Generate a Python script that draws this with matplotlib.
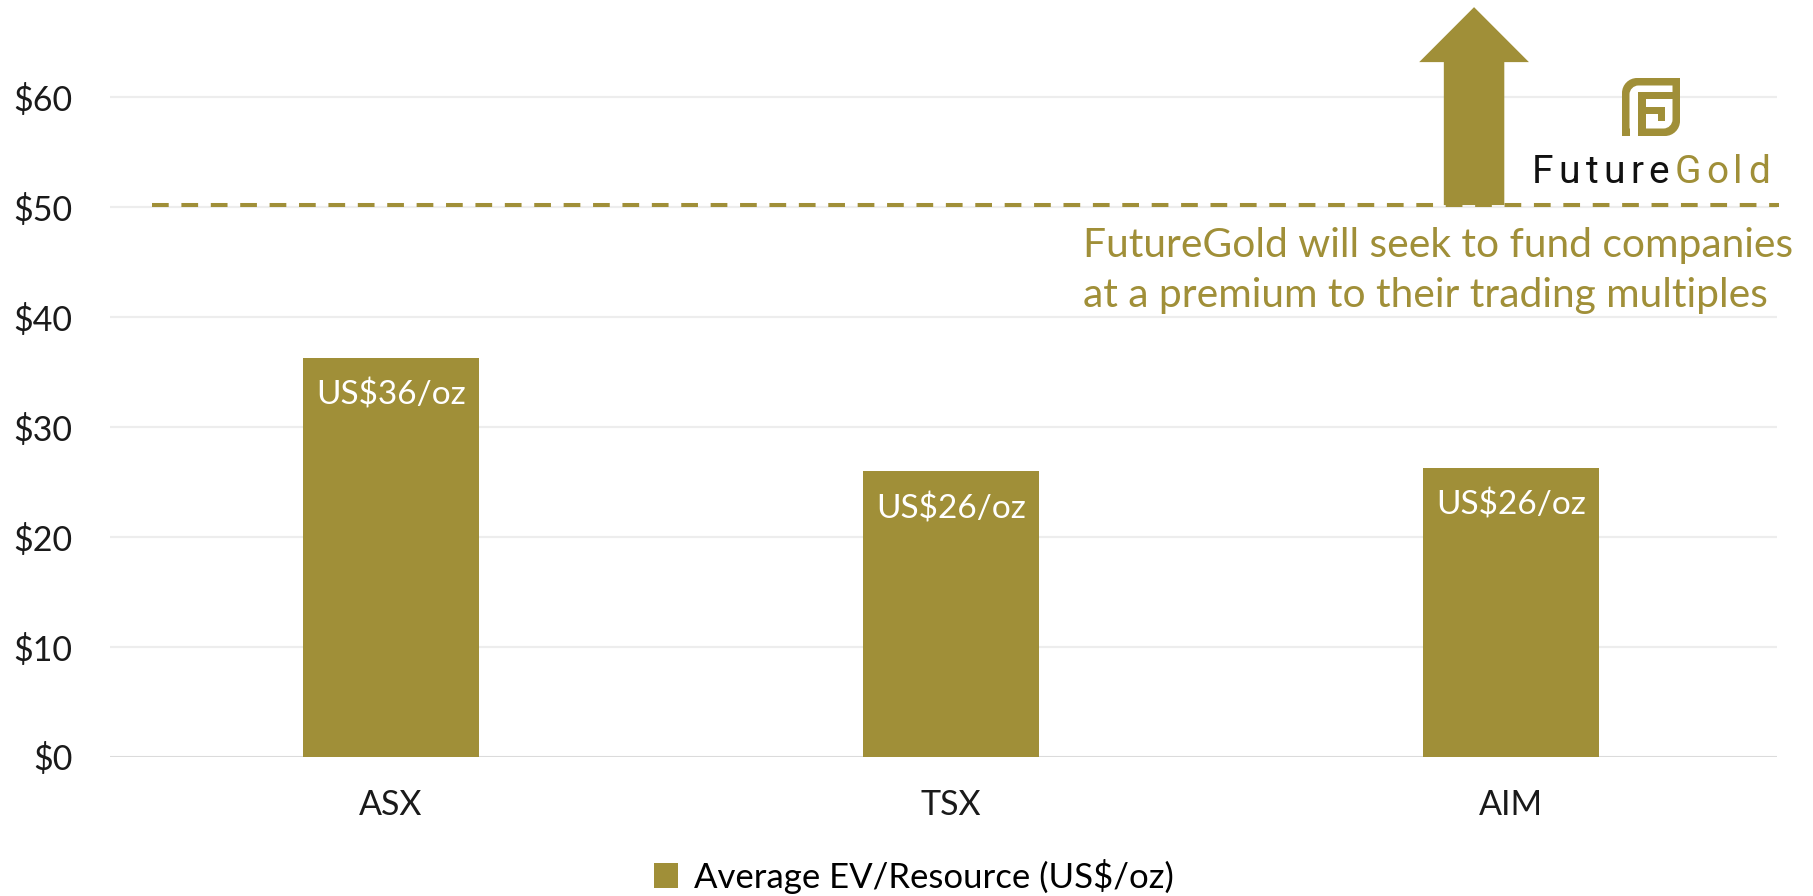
import matplotlib
matplotlib.use("Agg")
import matplotlib.pyplot as plt
from matplotlib.patches import Polygon, Rectangle, PathPatch
from matplotlib.path import Path
from matplotlib.ticker import FuncFormatter

# ---- data ----
categories = ["ASX", "TSX", "AIM"]
values = [36.3, 26.0, 26.3]
bar_labels = ["US$36/oz", "US$26/oz", "US$26/oz"]
series_name = "Average EV/Resource (US$/oz)"
target_level = 50.2
yticks = [0, 10, 20, 30, 40, 50, 60]
note_lines = ["FutureGold will seek to fund companies",
              "at a premium to their trading multiples"]

GOLD = "#A08F38"
FONT = "Lato"
plt.rcParams["font.family"] = [FONT, "DejaVu Sans"]

W, H = 1813, 896
fig = plt.figure(figsize=(W / 100, H / 100), dpi=100)
ax = fig.add_axes([110 / W, 1 - 757 / H, (1777 - 110) / W, (757 - 94) / H])
ax.set_xlim(-0.502, 2.475)
ax.set_ylim(0, 60.3)

bars = ax.bar(range(len(categories)), values, width=0.314, color=GOLD,
              label=series_name, zorder=3)

for s in ax.spines.values():
    s.set_visible(False)
ax.set_yticks(yticks)
ax.yaxis.set_major_formatter(FuncFormatter(lambda v, p: f"${v:.0f}"))
ax.set_xticks(range(len(categories)))
ax.set_xticklabels(categories)
ax.tick_params(axis="both", length=0, labelsize=24.5, labelcolor="#1a1a1a")
ax.tick_params(axis="y", pad=27)
ax.tick_params(axis="x", pad=23)
ax.yaxis.grid(True, color="#EDEDED", lw=1.6, zorder=0)
ax.set_axisbelow(True)
ax.axhline(0, color="#D9D9D9", lw=2, zorder=2)

for b, lab in zip(bars, bar_labels):
    ax.annotate(lab, (b.get_x() + b.get_width() / 2, b.get_height()),
                xytext=(0, -27), textcoords="offset points",
                ha="center", va="center", color="white", fontsize=24, zorder=4)

# dashed target line
ax.plot([-0.427, 2.479], [target_level, target_level], color=GOLD, lw=2.9,
        dashes=(4.15, 3.15), zorder=3, dash_capstyle="butt", clip_on=False)

# upward arrow (drawn in axes data coords, beyond top)
cx = 1.934
hw, sw = 0.098, 0.054
arrow = Polygon([(cx - sw, target_level), (cx + sw, target_level), (cx + sw, 63.2),
                 (cx + hw, 63.2), (cx, 68.2), (cx - hw, 63.2), (cx - sw, 63.2)],
                closed=True, facecolor=GOLD, edgecolor="none", clip_on=False, zorder=5)
ax.add_patch(arrow)

# note text
fig.text(1083 / W, 1 - 245 / H, note_lines[0], color=GOLD, fontsize=29.3,
         ha="left", va="center")
fig.text(1083 / W, 1 - 295 / H, note_lines[1], color=GOLD, fontsize=29.3,
         ha="left", va="center")

# ---- logo ----
lax = fig.add_axes([1622 / W, 1 - 136 / H, 58 / W, 58 / H])
lax.set_xlim(0, 58)
lax.set_ylim(58, 0)
lax.axis("off")

def leaf(x0, y0, x1, y1, r):
    k = 0.55
    verts = [(x0, y0 + r), (x0, y0 + r - r * k), (x0 + r - r * k, y0), (x0 + r, y0),
             (x1, y0), (x1, y1 - r),
             (x1, y1 - r + r * k), (x1 - r + r * k, y1), (x1 - r, y1),
             (x0, y1), (x0, y0 + r)]
    codes = [Path.MOVETO, Path.CURVE4, Path.CURVE4, Path.CURVE4,
             Path.LINETO, Path.LINETO,
             Path.CURVE4, Path.CURVE4, Path.CURVE4,
             Path.LINETO, Path.CLOSEPOLY]
    return Path(verts, codes)

lax.add_patch(PathPatch(leaf(0, 0, 58, 58, 15), facecolor=GOLD, edgecolor="none"))
lax.add_patch(PathPatch(leaf(7.5, 7.5, 50.5, 50.5, 9), facecolor="white", edgecolor="none"))
lax.add_patch(Rectangle((16, 14), 34.5, 7.5, facecolor=GOLD, edgecolor="none"))
lax.add_patch(Rectangle((16, 14), 7.5, 44, facecolor=GOLD, edgecolor="none"))
lax.add_patch(Rectangle((23.5, 29), 19, 7, facecolor=GOLD, edgecolor="none"))
lax.add_patch(Rectangle((35.5, 29), 7, 14.5, facecolor=GOLD, edgecolor="none"))
lax.add_patch(Rectangle((7.5, 50.5), 8.5, 7.5, facecolor="white", edgecolor="none"))

# FutureGold wordmark with letter spacing
fig.canvas.draw()
r = fig.canvas.get_renderer()
word = "FutureGold"
cols = ["#111111"] * 6 + [GOLD] * 4
wfam = ["Roboto", "DejaVu Sans"]
widths = []
for ch in word:
    t = fig.text(0, 0, ch, fontsize=28, family=wfam)
    widths.append(t.get_window_extent(r).width)
    t.remove()
x_start, x_end = 1532, 1770
track = (x_end - x_start - sum(widths)) / (len(word) - 1)
x = x_start
for ch, c, w in zip(word, cols, widths):
    fig.text(x / W, 1 - 183 / H, ch, fontsize=28, family=wfam,
             color=c, ha="left", va="baseline")
    x += w + track

fig.legend(handles=[bars], labels=[series_name], loc="center",
           bbox_to_anchor=(0.504, 1 - 876 / H), frameon=False, fontsize=25,
           handlelength=0.7, handleheight=0.7, handletextpad=0.45)

fig.savefig("out.png", dpi=100, facecolor="white")
